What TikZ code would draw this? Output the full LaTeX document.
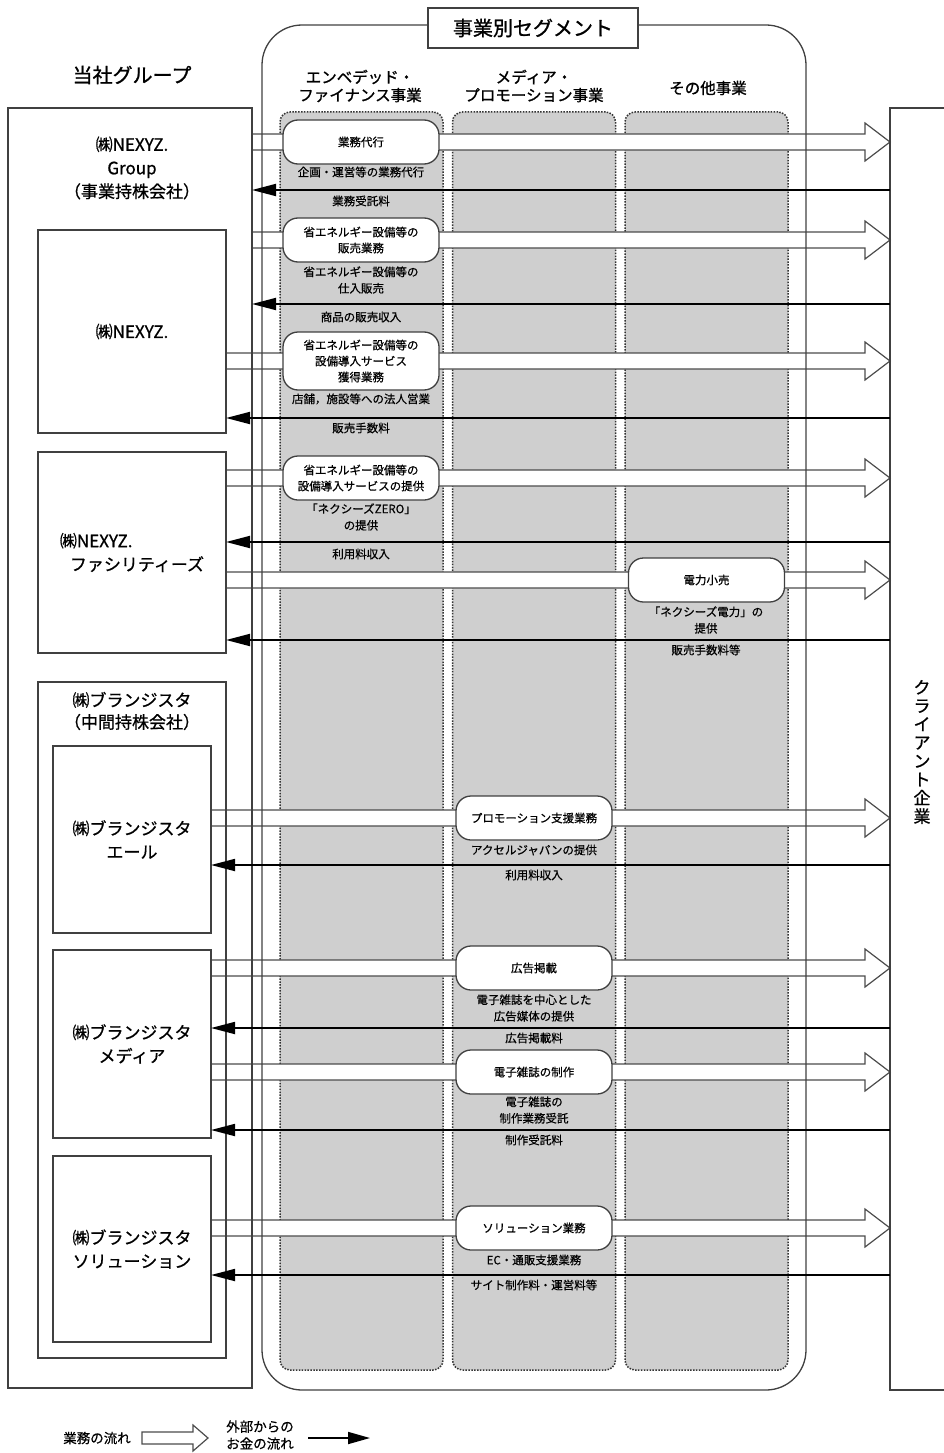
\documentclass[tikz,border=0pt]{standalone}
\usepackage{fontspec}
\setmainfont{Noto Sans CJK JP}
\usepackage{tikz}
\usetikzlibrary{
  positioning,
  calc,
  arrows.meta
}
\pgfdeclarelayer{back}
\pgfdeclarelayer{flow}
\pgfsetlayers{back,flow,main}

% hollow arrow: start, end, half band, half head, head length
\newcommand{\bizflow}[5]{%
  \coordinate (fs) at (#1);
  \coordinate (fe) at (#2);
  \draw[flowline] ($(fs)+(0,#3)$) -- ($(fe)+(-#5,#3)$) -- ($(fe)+(-#5,#4)$) -- (fe)
    -- ($(fe)+(-#5,-#4)$) -- ($(fe)+(-#5,-#3)$) -- ($(fs)+(0,-#3)$) -- cycle;}

\begin{document}
\begin{tikzpicture}[
      x=1pt, y=-1pt,
      every node/.style={inner sep=0pt, outer sep=0pt},
      company/.style={draw=black!75, line width=1.3pt, align=center, font=\fontsize{17}{23.5}\selectfont\addfontfeatures{FakeBold=0.8}},
      segcol/.style={draw=black!80, fill=black!19, line width=1.5pt, dash pattern=on 1.5pt off 1.4pt, rounded corners=10pt, minimum width=163, minimum height=1258},
      work/.style={draw=black!75, fill=white, line width=1.3pt, rounded corners=15pt, minimum width=156, minimum height=44, align=center, font=\fontsize{11.5}{16}\selectfont\addfontfeatures{FakeBold=0.6}},
      note/.style={align=center, font=\fontsize{11.5}{16.5}\selectfont\addfontfeatures{FakeBold=0.6}},
      colhead/.style={align=center, font=\fontsize{15.5}{18}\selectfont\addfontfeatures{FakeBold=1.2}},
      flowline/.style={draw=black!70, fill=white, line width=1.2pt, line join=miter},
      money/.style={draw=black, line width=1.8pt, -{Triangle[length=24pt, width=12pt]}}
    ]
      \useasboundingbox (0,0) rectangle (944,1453);

      % Rows of flows and payments
      \foreach \k/\y in {1/142, 2/240, 3/361, 4/478, 5/580, 6/818, 7/968, 8/1072, 9/1228}
        \coordinate (r\k) at (0,\y);
      \foreach \k/\y in {1/190, 2/304, 3/418, 4/542, 5/640, 6/865, 7/1028, 8/1130, 9/1275}
        \coordinate (m\k) at (0,\y);
      \coordinate (efin) at (361,0);
      \coordinate (mpro) at (534,0);
      \coordinate (etc) at (706.5,0);

      % Segment frame and columns
      \node[draw=black!75, line width=1.3pt, rounded corners=40pt, minimum width=544, minimum height=1365] (seg) at (534,707.5) {};
      \begin{pgfonlayer}{back}
        \node[segcol] (col1) at (361.5,741) {};
        \node[segcol] (col2) at (534,741) {};
        \node[segcol] (col3) at (706.5,741) {};
      \end{pgfonlayer}
      \node[draw=black!75, fill=white, line width=1.3pt, minimum width=210, minimum height=40, font=\fontsize{20}{24}\selectfont\addfontfeatures{FakeBold=1.2}] (segtitle) at (533,28) {事業別セグメント};
      \node[colhead] (head1) at (360,86) {エンベデッド・\\ファイナンス事業};
      \node[colhead] (head2) at (534,86) {メディア・\\プロモーション事業};
      \node[colhead] (head3) at (708,88) {その他事業};

      % Group companies
      \node[font=\fontsize{20}{24}\selectfont\addfontfeatures{FakeBold=1.2}] (group) at (132,75) {当社グループ};
      \node[company, minimum width=244, minimum height=1280] (grp) at (130,748) {};
      \node[align=center, font=\fontsize{17}{23.5}\selectfont\addfontfeatures{FakeBold=0.8}] (grptxt) at (132,168) {㈱NEXYZ.\\Group\\（事業持株会社）};
      \node[company, minimum width=188, minimum height=203] (nx) at (132,331.5) {㈱NEXYZ.};
      \node[company, align=left, minimum width=188, minimum height=201] (fac) at (132,552.5) {㈱NEXYZ.\\\hspace*{10pt}ファシリティーズ};
      \node[company, minimum width=188, minimum height=676] (brz) at (132,1020) {};
      \node[align=center, font=\fontsize{17}{22}\selectfont\addfontfeatures{FakeBold=0.8}] (brztxt) at (132,711) {㈱ブランジスタ\\（中間持株会社）};
      \node[company, minimum width=158, minimum height=187] (yell) at (132,839.5) {㈱ブランジスタ\\エール};
      \node[company, minimum width=158, minimum height=188] (med) at (132,1044) {㈱ブランジスタ\\メディア};
      \node[company, minimum width=158, minimum height=186] (sol) at (132,1249) {㈱ブランジスタ\\ソリューション};

      % Client
      \node[draw=black!75, line width=1.3pt, minimum width=60, minimum height=1282] (client) at (920,749) {};
      \node[align=center, font=\fontsize{17}{18.4}\selectfont\addfontfeatures{FakeBold=0.8}] (clienttxt) at (922,752) {ク\\ラ\\イ\\ア\\ン\\ト\\企\\業};

      % Business nodes
      \node[work] (gyomu) at (efin |- r1) {業務代行};
      \node[work] (hanbai) at (efin |- r2) {省エネルギー設備等の\\販売業務};
      \node[work, minimum height=58] (kakutoku) at (efin |- r3) {省エネルギー設備等の\\設備導入サービス\\獲得業務};
      \node[work] (teikyo) at (efin |- r4) {省エネルギー設備等の\\設備導入サービスの提供};
      \node[work] (denryoku) at (etc |- r5) {電力小売};
      \node[work] (promo) at (mpro |- r6) {プロモーション支援業務};
      \node[work] (kokoku) at (mpro |- r7) {広告掲載};
      \node[work] (seisaku) at (mpro |- r8) {電子雑誌の制作};
      \node[work] (solution) at (mpro |- r9) {ソリューション業務};

      % Hollow arrows
      \begin{pgfonlayer}{flow}
        \foreach \k/\src in {1/grp, 2/grp, 3/nx, 4/fac, 5/fac, 6/yell, 7/med, 8/med, 9/sol}{
          \bizflow{\src.east |- r\k}{client.west |- r\k}{8pt}{19pt}{25pt}
        }
      \end{pgfonlayer}

      % Payments
      \foreach \k/\dst in {1/grp, 2/grp, 3/nx, 4/fac, 5/fac, 6/yell, 7/med, 8/med, 9/sol}
        \draw[money] (client.west |- m\k) -- (\dst.east |- m\k);

      % Labels
      \node[note] (lab1) at (361,172) {企画・運営等の業務代行};
      \node[note] (lab2) at (361,201) {業務受託料};
      \node[note] (lab3) at (361,280) {省エネルギー設備等の\\仕入販売};
      \node[note] (lab4) at (361,317) {商品の販売収入};
      \node[note] (lab5) at (361,399) {店舗，施設等への法人営業};
      \node[note] (lab6) at (361,428) {販売手数料};
      \node[note] (lab7) at (361,517) {「ネクシーズZERO」\\の提供};
      \node[note] (lab8) at (361,554) {利用料収入};
      \node[note] (lab9) at (706,620) {「ネクシーズ電力」の\\提供};
      \node[note] (lab10) at (706,650) {販売手数料等};
      \node[note] (lab11) at (534,850) {アクセルジャパンの提供};
      \node[note] (lab12) at (534,875) {利用料収入};
      \node[note] (lab13) at (534,1008) {電子雑誌を中心とした\\広告媒体の提供};
      \node[note] (lab14) at (534,1038) {広告掲載料};
      \node[note] (lab15) at (534,1110) {電子雑誌の\\制作業務受託};
      \node[note] (lab16) at (534,1140) {制作受託料};
      \node[note] (lab17) at (534,1260) {EC・通販支援業務};
      \node[note] (lab18) at (534,1285) {サイト制作料・運営料等};

      % Legend
      \node[font=\fontsize{13.5}{17}\selectfont\addfontfeatures{FakeBold=0.6}] (lgflow) at (97,1438) {業務の流れ};
      \coordinate (lgf1) at (142,1438);
      \coordinate (lgf2) at (208,1438);
      \bizflow{lgf1}{lgf2}{6pt}{13pt}{15pt}
      \node[align=left, font=\fontsize{13.5}{17}\selectfont\addfontfeatures{FakeBold=0.6}] (lgmoney) at (260,1435) {外部からの\\お金の流れ};
      \coordinate (lgm1) at (308,1438);
      \coordinate (lgm2) at (370,1438);
      \draw[money, -{Triangle[length=22pt, width=12pt]}] (lgm1) -- (lgm2);
    \end{tikzpicture}
\end{document}
